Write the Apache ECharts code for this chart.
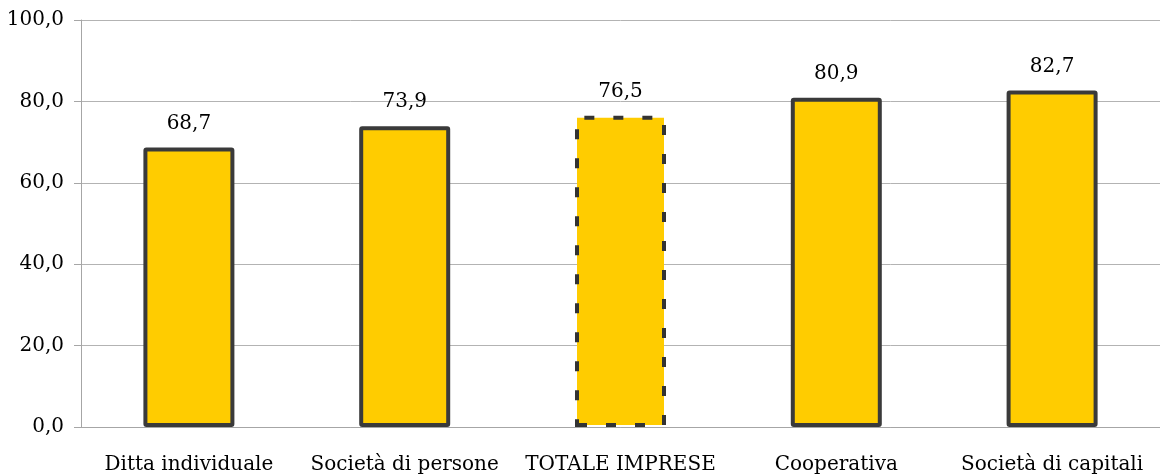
<!DOCTYPE html>
<html><head><meta charset="utf-8">
<script src="https://cdn.jsdelivr.net/npm/echarts@6/dist/echarts.min.js"></script>
<style>html,body{margin:0;padding:0;background:#fff}#c{width:1160px;height:475px}</style>
</head><body><div id="c"></div>
<script>
const categories = ["Ditta individuale", "Società di persone", "TOTALE IMPRESE", "Cooperativa", "Società di capitali"];
const values = [68.7, 73.9, 76.5, 80.9, 82.7];
const dashedIndex = 2;

const FONT = '"DejaVu Serif", "Liberation Serif", serif';
const fmt = v => v.toFixed(1).replace('.', ',');
const chart = echarts.init(document.getElementById('c'));
chart.setOption({
  animation: false,
  grid: { left: 81, right: 0, top: 20, bottom: 47 },
  xAxis: {
    type: 'category', data: categories,
    axisLine: { lineStyle: { color: '#a6a6a6', width: 1 } },
    axisTick: { show: false },
    axisLabel: { color: '#000', fontFamily: FONT, fontSize: 20, margin: 28, interval: 0 }
  },
  yAxis: {
    type: 'value', min: 0, max: 100, interval: 20,
    axisLine: { show: true, lineStyle: { color: '#a6a6a6' } },
    axisTick: { show: true, length: 7, lineStyle: { color: '#a6a6a6' } },
    splitLine: { lineStyle: { color: '#b3b3b3' } },
    axisLabel: { color: '#000', fontFamily: FONT, fontSize: 20, margin: 17, formatter: v => fmt(v) }
  },
  series: [{
    type: 'bar', barWidth: 91,
    data: values.map((v, i) => ({
      value: v,
      itemStyle: i === dashedIndex
        ? { color: '#FFCC00', borderColor: '#333333', borderWidth: 4, borderType: [10, 19] }
        : { color: '#FFCC00', borderColor: '#3a3a3a', borderWidth: 4, borderRadius: 1 }
    })),
    label: { show: true, position: 'top', distance: 14, color: '#000', fontFamily: FONT, fontSize: 20, formatter: p => fmt(p.value) }
  }]
});
</script></body></html>
